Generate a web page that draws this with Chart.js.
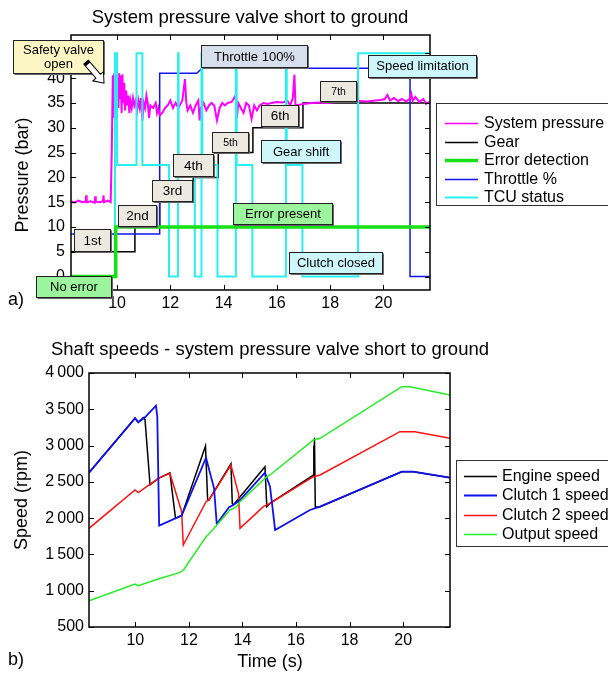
<!DOCTYPE html>
<html>
<head>
<meta charset="utf-8">
<script src="https://cdn.jsdelivr.net/npm/chart.js@4.4.0/dist/chart.umd.min.js"></script>
<style>
  html, body { margin: 0; padding: 0; background: #fff; }
  #wrap { position: relative; width: 608px; height: 674px; overflow: hidden; }
  canvas { position: absolute; left: 0; }
  #pressureChart { top: 0; }
  #speedChart { top: 330px; }
</style>
</head>
<body>
<div id="wrap">
  <canvas id="pressureChart" width="608" height="330"></canvas>
  <canvas id="speedChart" width="608" height="344"></canvas>
</div>
<script>
// ---------- shared time axis (s) ----------
const timeTicks = [10, 12, 14, 16, 18, 20];

// ---------- panel a: pressure / status traces, [time s, value] ----------
const pressureTicks = [0, 5, 10, 15, 20, 25, 30, 35, 40, 45];

const systemPressure = [
  [8.27, 15.2], [8.4, 14.9], [8.55, 15.3], [8.7, 15.0], [8.82, 15.1], [8.84, 16.4], [8.86, 15.0],
  [9.0, 15.2], [9.16, 14.9], [9.18, 16.2], [9.2, 15.1], [9.35, 15.0], [9.47, 15.2], [9.49, 16.4],
  [9.51, 15.0], [9.65, 15.3], [9.76, 15.0], [9.8, 25.0], [9.84, 40.6], [9.87, 32.0], [9.9, 41.0],
  [9.93, 33.5], [9.96, 40.8], [9.99, 31.8], [10.02, 40.0], [10.05, 34.0], [10.08, 41.0], [10.11, 36.0],
  [10.14, 40.5], [10.17, 33.0], [10.2, 40.8], [10.23, 35.0], [10.27, 39.0], [10.3, 33.5], [10.34, 37.5],
  [10.38, 34.5], [10.42, 36.5], [10.46, 33.0], [10.5, 35.5], [10.55, 34.0], [10.6, 36.0], [10.65, 34.5],
  [10.7, 35.5], [10.75, 33.5], [10.8, 35.5], [10.85, 34.0], [10.9, 36.0], [10.95, 31.5], [11.0, 35.0],
  [11.05, 34.0], [11.1, 36.5], [11.15, 35.0], [11.2, 32.0], [11.25, 34.5], [11.35, 34.0], [11.45, 35.0],
  [11.5, 33.0], [11.55, 34.0], [11.6, 32.5], [11.7, 33.0], [11.8, 34.0], [11.9, 34.5], [12.0, 35.5],
  [12.1, 34.0], [12.2, 35.0], [12.3, 34.0], [12.45, 35.5], [12.55, 39.8], [12.6, 35.0], [12.65, 33.5],
  [12.75, 34.5], [12.85, 33.0], [12.95, 34.5], [13.05, 35.5], [13.1, 31.5], [13.15, 34.0], [13.25, 35.0],
  [13.35, 33.5], [13.45, 34.5], [13.55, 35.0], [13.65, 34.5], [13.75, 31.5], [13.85, 34.0], [13.95, 35.0],
  [14.05, 34.5], [14.15, 35.0], [14.3, 35.2], [14.45, 36.5], [14.5, 32.0], [14.55, 35.0], [14.65, 34.0],
  [14.75, 33.0], [14.85, 35.0], [14.95, 34.5], [15.05, 31.8], [15.15, 34.5], [15.25, 33.5], [15.35, 34.5],
  [15.5, 35.0], [15.65, 34.8], [15.8, 35.0], [16.0, 35.2], [16.2, 35.1], [16.4, 35.4], [16.5, 34.5],
  [16.6, 36.0], [16.66, 40.7], [16.7, 34.5], [16.8, 34.6], [17.0, 34.8], [17.3, 35.0], [17.6, 35.1],
  [17.9, 35.0], [18.2, 35.2], [18.5, 35.3], [18.8, 35.2], [19.1, 35.4], [19.4, 35.3], [19.7, 35.5],
  [19.9, 35.6], [20.05, 35.8], [20.15, 36.6], [20.25, 35.5], [20.4, 36.0], [20.55, 35.4], [20.7, 35.8],
  [20.85, 35.3], [21.0, 35.9], [21.05, 36.8], [21.1, 35.4], [21.2, 36.2], [21.35, 35.2], [21.5, 35.8],
  [21.6, 34.8], [21.75, 35.3]
];

// gear number at each shift instant (plotted as 5 bar per gear)
const gearShifts = [[8.27, 1], [10.67, 2], [11.6, 3], [12.86, 4], [13.8, 5], [15.1, 6], [16.98, 7], [21.75, 7]];

const errorDetection = [[8.27, 0], [9.95, 0], [9.95, 10], [21.75, 10]];

const throttle = [[8.27, 8.6], [11.6, 8.6], [11.6, 41.0], [12.99, 41.0], [13.2, 42.0], [21.0, 42.0], [21.0, 0], [21.75, 0]];

const tcuStatus = [
  [8.27, 0], [9.92, 45], [10.0, 22.5], [10.73, 45], [10.95, 22.5], [11.95, 0], [12.29, 45], [12.31, 22.5],
  [12.92, 0], [13.17, 45], [13.2, 22.5], [13.77, 0], [14.46, 45], [14.49, 22.5], [15.08, 0], [16.34, 45],
  [16.37, 22.5], [16.96, 0], [19.05, 45], [21.75, 45]
];

// ---------- panel b: shaft speeds, [time s, rpm] ----------
const speedTicks = [500, 1000, 1500, 2000, 2500, 3000, 3500, 4000];

const engineSpeed = [
  [8.27, 2626], [9.99, 3376], [10.11, 3321], [10.3, 3387], [10.36, 3362], [10.55, 2460], [10.86, 2549],
  [11.29, 2625], [11.5, 2000], [11.73, 2034], [12.62, 2994], [12.7, 2250], [12.75, 2250], [13.57, 2750],
  [13.62, 2204], [13.66, 2181], [14.84, 2709], [14.91, 2158], [15.03, 2204], [16.64, 2590], [16.66, 3000],
  [16.67, 2650], [16.69, 3108], [16.72, 2150], [16.9, 2158], [19.95, 2640], [20.38, 2640], [21.75, 2557]
];

const clutch1Speed = [
  [8.27, 2626], [9.99, 3376], [10.11, 3321], [10.36, 3390], [10.77, 3549], [10.82, 3398], [10.89, 1896],
  [11.73, 2034], [12.64, 2833], [12.94, 2411], [13.04, 1919], [13.5, 2150], [13.66, 2181], [13.91, 2250],
  [14.84, 2626], [15.03, 2433], [15.22, 1837], [16.52, 2112], [16.9, 2158], [19.95, 2640], [20.38, 2640],
  [21.75, 2557]
];

const clutch2Speed = [
  [8.27, 1860], [9.99, 2388], [10.11, 2351], [10.86, 2549], [11.29, 2618], [11.73, 2089], [11.79, 1630],
  [12.64, 2227], [12.75, 2250], [13.57, 2732], [13.85, 2342], [13.91, 1860], [14.78, 2158], [15.03, 2204],
  [16.65, 2571], [16.9, 2595], [19.88, 3191], [20.44, 3191], [21.75, 3100]
];

const outputSpeed = [
  [8.27, 862], [9.99, 1092], [10.11, 1069], [10.86, 1161], [11.67, 1253], [11.8, 1285], [12.64, 1744],
  [12.75, 1781], [13.53, 2112], [13.78, 2158], [13.91, 2227], [14.91, 2571], [15.03, 2595], [16.65, 3077],
  [16.9, 3100], [19.95, 3811], [20.26, 3811], [21.75, 3697]
];

const FONT = '"Liberation Sans", Arial, Helvetica, sans-serif';
const T_MIN = 8.27, T_MAX = 21.75;

function pts(pairs, k = 1) {
  return pairs.map(([x, y]) => ({ x, y: y * k }));
}

function trace(label, data, color, width, order, extra = {}) {
  return Object.assign({
    label, data, order,
    borderColor: color, backgroundColor: color, borderWidth: width,
    pointRadius: 0, pointHoverRadius: 0, fill: false, tension: 0
  }, extra);
}

// white block arrow with black outline
function blockArrow(ctx, x0, y0, x1, y1) {
  const ang = Math.atan2(y1 - y0, x1 - x0);
  const len = Math.hypot(x1 - x0, y1 - y0);
  const shaft = 3, head = 7, headLen = 9;
  ctx.save();
  ctx.translate(x0, y0);
  ctx.rotate(ang);
  ctx.beginPath();
  ctx.moveTo(0, -shaft);
  ctx.lineTo(len - headLen, -shaft);
  ctx.lineTo(len - headLen, -head);
  ctx.lineTo(len, 0);
  ctx.lineTo(len - headLen, head);
  ctx.lineTo(len - headLen, shaft);
  ctx.lineTo(0, shaft);
  ctx.closePath();
  ctx.fillStyle = '#fff';
  ctx.fill();
  ctx.strokeStyle = '#000';
  ctx.lineWidth = 1;
  ctx.stroke();
  ctx.fillStyle = '#000';
  ctx.fillRect(0, -shaft, 3, shaft * 2);
  ctx.restore();
}

function drawNote(ctx, cx, cy, n) {
  const x = Math.round(cx - n.w / 2) + 0.5;
  const y = Math.round(cy - n.h / 2) + 0.5;
  ctx.fillStyle = n.fill;
  ctx.fillRect(x, y, n.w, n.h);
  ctx.lineWidth = 1;
  ctx.strokeStyle = '#222';
  ctx.strokeRect(x, y, n.w, n.h);
  ctx.strokeStyle = '#666';
  ctx.beginPath();
  ctx.moveTo(x + 1, y + n.h + 1);
  ctx.lineTo(x + n.w + 1, y + n.h + 1);
  ctx.lineTo(x + n.w + 1, y + 1);
  ctx.stroke();
  const lines = n.text.split('\n');
  const size = n.size || 13.5;
  const lh = size * 1.05;
  ctx.fillStyle = '#000';
  ctx.font = `${size}px ${FONT}`;
  ctx.textAlign = 'center';
  ctx.textBaseline = 'middle';
  lines.forEach((s, i) => {
    ctx.fillText(s, cx + 0.5, cy + 1 + (i - (lines.length - 1) / 2) * lh);
  });
}

// frame, inward ticks, titles, text boxes and legend
const panelDecor = {
  id: 'panelDecor',
  afterDraw(chart, args, opts) {
    const { ctx, chartArea: a, scales: { x, y } } = chart;
    ctx.save();

    ctx.strokeStyle = '#000';
    ctx.lineWidth = 1.5;
    ctx.strokeRect(a.left, a.top, a.right - a.left, a.bottom - a.top);
    ctx.lineWidth = 1;
    ctx.beginPath();
    x.ticks.forEach(t => {
      const p = Math.round(x.getPixelForValue(t.value)) + 0.5;
      ctx.moveTo(p, a.bottom); ctx.lineTo(p, a.bottom - 5);
      ctx.moveTo(p, a.top); ctx.lineTo(p, a.top + 5);
    });
    y.ticks.forEach(t => {
      const p = Math.round(y.getPixelForValue(t.value)) + 0.5;
      ctx.moveTo(a.left, p); ctx.lineTo(a.left + 5, p);
      ctx.moveTo(a.right, p); ctx.lineTo(a.right - 5, p);
    });
    ctx.stroke();

    ctx.fillStyle = '#000';
    ctx.textAlign = 'center';
    ctx.textBaseline = 'middle';
    ctx.font = `18.5px ${FONT}`;
    ctx.fillText(opts.title.text, opts.title.x, opts.title.y);

    ctx.font = `18px ${FONT}`;
    ctx.textAlign = 'left';
    ctx.fillText(opts.tag.text, opts.tag.x, opts.tag.y);

    ctx.textAlign = 'center';
    if (opts.xTitle) ctx.fillText(opts.xTitle.text, opts.xTitle.x, opts.xTitle.y);
    ctx.save();
    ctx.translate(opts.yTitle.x, opts.yTitle.y);
    ctx.rotate(-Math.PI / 2);
    ctx.fillText(opts.yTitle.text, 0, 0);
    ctx.restore();

    (opts.notes || []).forEach(n => {
      const cx = x.getPixelForValue(n.t);
      const cy = y.getPixelForValue(n.v);
      drawNote(ctx, cx, cy, n);
      if (n.arrow) {
        const tx = x.getPixelForValue(n.arrow.t);
        const ty = y.getPixelForValue(n.arrow.v);
        blockArrow(ctx, tx + n.arrow.dx, ty + n.arrow.dy, tx, ty);
      }
    });

    const lg = opts.legend;
    ctx.fillStyle = '#fff';
    ctx.fillRect(lg.box[0], lg.box[1], lg.box[2], lg.box[3]);
    ctx.strokeStyle = '#333';
    ctx.lineWidth = 1;
    ctx.strokeRect(lg.box[0], lg.box[1], lg.box[2], lg.box[3]);
    ctx.font = `16px ${FONT}`;
    ctx.textAlign = 'left';
    ctx.textBaseline = 'middle';
    chart.data.datasets.forEach((ds, i) => {
      const ly = Math.round(lg.y0 + i * lg.dy) + 0.5;
      ctx.strokeStyle = ds.borderColor;
      ctx.lineWidth = ds.legendWidth || ds.borderWidth;
      ctx.beginPath();
      ctx.moveTo(lg.x0, ly);
      ctx.lineTo(lg.x1, ly);
      ctx.stroke();
      ctx.fillStyle = '#000';
      ctx.fillText(ds.label, lg.tx, ly);
    });

    ctx.restore();
  }
};

function timeAxis(height, padding) {
  return {
    type: 'linear', min: T_MIN, max: T_MAX,
    afterBuildTicks: s => { s.ticks = timeTicks.map(v => ({ value: v })); },
    afterFit: s => { s.height = height; },
    grid: { display: false, drawTicks: false },
    border: { display: false },
    ticks: { autoSkip: false, maxRotation: 0, padding, color: '#000', font: { family: FONT, size: 16 } }
  };
}

const GEAR_FILL = '#ece9e0', CYAN_FILL = '#cdf7fb', GREEN_FILL = '#9cf59c';

new Chart(document.getElementById('pressureChart'), {
  type: 'line',
  data: {
    datasets: [
      trace('System pressure', pts(systemPressure), '#ff00ff', 2, 3, { legendWidth: 1.5 }),
      trace('Gear', pts(gearShifts, 5), '#000000', 1.5, 5, { stepped: 'before' }),
      trace('Error detection', pts(errorDetection), '#16e016', 3.5, 1),
      trace('Throttle %', pts(throttle), '#1414ee', 1.5, 4),
      trace('TCU status', pts(tcuStatus), '#28f0f0', 2, 2, { stepped: 'before' })
    ]
  },
  options: {
    responsive: false,
    animation: false,
    events: [],
    layout: { padding: { left: 0, right: 178, top: 35, bottom: 10 } },
    scales: {
      x: timeAxis(30, 4),
      y: {
        type: 'linear', min: -2.7, max: 48.7,
        afterBuildTicks: s => { s.ticks = pressureTicks.map(v => ({ value: v })); },
        afterFit: s => { s.width = 71; },
        grid: { display: false, drawTicks: false },
        border: { display: false },
        ticks: { autoSkip: false, padding: 6, color: '#000', font: { family: FONT, size: 16 } }
      }
    },
    plugins: {
      legend: { display: false },
      tooltip: { enabled: false },
      panelDecor: {
        title: { text: 'System pressure valve short to ground', x: 250, y: 18 },
        tag: { text: 'a)', x: 8, y: 300 },
        yTitle: { text: 'Pressure (bar)', x: 23, y: 175 },
        notes: [
          { text: 'Safety valve\nopen', t: 7.78, v: 44.4, w: 90, h: 33, fill: '#fbf6c4', size: 13,
            arrow: { t: 9.51, v: 39.0, dx: -18, dy: -21 } },
          { text: 'Throttle 100%', t: 15.14, v: 44.47, w: 106, h: 22, fill: '#d6dfeb', size: 13 },
          { text: 'Speed limitation', t: 21.45, v: 42.55, w: 108, h: 22, fill: CYAN_FILL, size: 13 },
          { text: '7th', t: 18.3, v: 37.41, w: 36, h: 20, fill: GEAR_FILL, size: 10.5 },
          { text: '6th', t: 16.1, v: 32.47, w: 37, h: 21, fill: GEAR_FILL },
          { text: '5th', t: 14.24, v: 27.13, w: 36, h: 20, fill: GEAR_FILL, size: 10.5 },
          { text: 'Gear shift', t: 16.89, v: 25.32, w: 79, h: 22, fill: CYAN_FILL, size: 13 },
          { text: '4th', t: 12.85, v: 22.5, w: 40, h: 22, fill: GEAR_FILL },
          { text: '3rd', t: 12.06, v: 17.36, w: 40, h: 21, fill: GEAR_FILL },
          { text: '2nd', t: 10.75, v: 12.32, w: 38, h: 21, fill: GEAR_FILL },
          { text: 'Error present', t: 16.21, v: 12.72, w: 99, h: 21, fill: GREEN_FILL, size: 13 },
          { text: '1st', t: 9.06, v: 7.38, w: 36, h: 22, fill: GEAR_FILL },
          { text: 'Clutch closed', t: 18.2, v: 2.84, w: 93, h: 21, fill: CYAN_FILL, size: 13 },
          { text: 'No error', t: 8.36, v: -1.99, w: 75, h: 21, fill: GREEN_FILL, size: 13 }
        ],
        legend: { box: [436.5, 103.5, 200, 102], x0: 445, x1: 478, tx: 484, y0: 123, dy: 18.5 }
      }
    }
  },
  plugins: [panelDecor]
});

new Chart(document.getElementById('speedChart'), {
  type: 'line',
  data: {
    datasets: [
      trace('Engine speed', pts(engineSpeed), '#000000', 1.5, 4),
      trace('Clutch 1 speed', pts(clutch1Speed), '#1010ee', 1.8, 2),
      trace('Clutch 2 speed', pts(clutch2Speed), '#ff1010', 1.5, 3),
      trace('Output speed', pts(outputSpeed), '#22ee22', 1.5, 1)
    ]
  },
  options: {
    responsive: false,
    animation: false,
    events: [],
    layout: { padding: { left: 0, right: 158, top: 43, bottom: 0 } },
    scales: {
      x: timeAxis(47, 4),
      y: {
        type: 'linear', min: 500, max: 4000,
        afterBuildTicks: s => { s.ticks = speedTicks.map(v => ({ value: v })); },
        afterFit: s => { s.width = 89; },
        grid: { display: false, drawTicks: false },
        border: { display: false },
        ticks: {
          autoSkip: false, padding: 5, color: '#000', font: { family: FONT, size: 16 },
          callback: v => v >= 1000 ? Math.floor(v / 1000) + '\u2009' + String(v % 1000).padStart(3, '0') : String(v)
        }
      }
    },
    plugins: {
      legend: { display: false },
      tooltip: { enabled: false },
      panelDecor: {
        title: { text: 'Shaft speeds - system pressure valve short to ground', x: 270, y: 20 },
        tag: { text: 'b)', x: 8, y: 330 },
        xTitle: { text: 'Time (s)', x: 270, y: 332 },
        yTitle: { text: 'Speed (rpm)', x: 22, y: 170 },
        legend: { box: [456.5, 130.5, 200, 86], x0: 464, x1: 497, tx: 502, y0: 146, dy: 19.3 }
      }
    }
  },
  plugins: [panelDecor]
});
</script>
</body>
</html>
